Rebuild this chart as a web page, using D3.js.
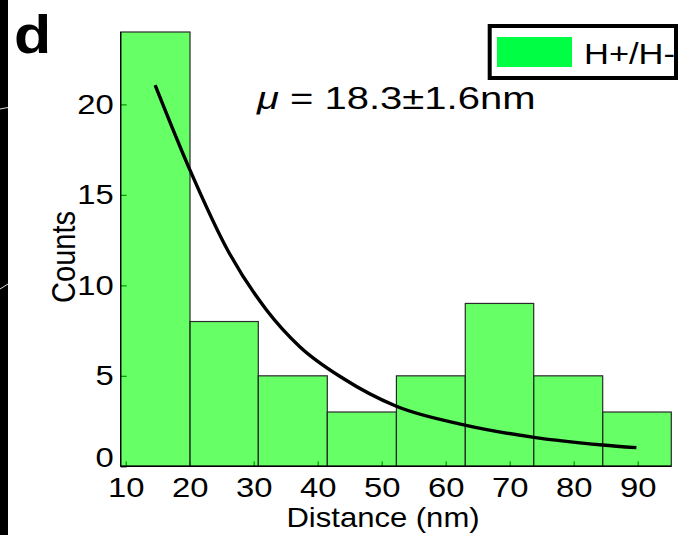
<!DOCTYPE html>
<html>

<head>
    <title>Distance histogram</title>
    <style>
        body {
            margin: 0;
            background: #fff;
        }

        text {
            font-family: "Liberation Sans", Arial, Helvetica, sans-serif;
            fill: #000;
        }
    </style>
    <script src="https://d3js.org/d3.v7.min.js"></script>
</head>

<body>
    <script>
        // histogram bins (nm) and counts
        let binEdges = [9.22, 20.05, 30.72, 41.5, 52.3, 63.06, 73.75, 84.53, 95.25];
        let counts = [24, 8, 5, 3, 5, 9, 5, 3];

        // fitted curve
        let curveX = [14.6, 20.05, 26, 32.0, 37.2, 44, 52.2, 63.0, 73.8, 84.5, 89.8];
        let curveY = [21.07, 16.37, 11.9, 8.64, 6.61, 4.85, 3.33, 2.28, 1.60, 1.18, 1.03];

        let xTicks = [10, 20, 30, 40, 50, 60, 70, 80, 90];
        let yTicks = [0, 5, 10, 15, 20];
        let legendLabel = "H+/H-";
        let fitLabel = "18.3±1.6nm";

        let width = 681;
        let height = 535;
        let stretch = "scale(1.15,1)";

        let svg = d3.select("body")
            .append("svg")
            .attr("width", width)
            .attr("height", height);

        svg.append("rect")
            .attr("width", width)
            .attr("height", height)
            .attr("fill", "#fff");

        // dark strip on the left edge
        svg.append("rect")
            .attr("x", 0).attr("y", 0)
            .attr("width", 8).attr("height", height)
            .attr("fill", "#000");
        svg.append("line")
            .attr("x1", 0).attr("y1", 109).attr("x2", 8).attr("y2", 107.5)
            .attr("stroke", "#ddd").attr("stroke-width", 1);
        svg.append("line")
            .attr("x1", 0).attr("y1", 289).attr("x2", 8).attr("y2", 284)
            .attr("stroke", "#ddd").attr("stroke-width", 1);

        let x = d3.scaleLinear()
            .domain([binEdges[0], binEdges[binEdges.length - 1]])
            .range([120.7, 671.3]);
        let y = d3.scaleLinear()
            .domain([0, 24])
            .range([466.3, 32]);

        // axes first, so the ticks sit under the translucent bars
        let xAxis = svg.append("g")
            .attr("transform", `translate(0, ${y(0)})`)
            .call(d3.axisBottom(x).tickValues(xTicks).tickSizeInner(-5).tickSizeOuter(0).tickPadding(10));
        let yAxis = svg.append("g")
            .attr("transform", `translate(${x.range()[0]}, 0)`)
            .call(d3.axisLeft(y).tickValues(yTicks).tickSizeInner(-6).tickSizeOuter(0).tickPadding(6));

        [xAxis, yAxis].forEach(function (g) {
            g.select(".domain").remove();
            g.selectAll(".tick line").attr("stroke", "#000").attr("stroke-width", 1.2);
            g.selectAll(".tick text")
                .attr("font-size", 28.5)
                .attr("font-family", "Liberation Sans, Arial, sans-serif")
                .attr("transform", stretch);
        });
        // the zero label is lifted a bit in the original
        yAxis.selectAll(".tick text").filter(function (d) { return d === 0; }).attr("dy", "0.0em");

        svg.selectAll(".bar")
            .data(counts)
            .enter()
            .append("rect")
            .attr("class", "bar")
            .attr("x", function (d, i) { return x(binEdges[i]); })
            .attr("y", function (d) { return y(d); })
            .attr("width", function (d, i) { return x(binEdges[i + 1]) - x(binEdges[i]); })
            .attr("height", function (d) { return y(0) - y(d); })
            .attr("fill", "#00ff00")
            .attr("fill-opacity", 0.6)
            .attr("stroke", "#2a2a2a")
            .attr("stroke-width", 1.2);

        // axis lines on top
        svg.append("line")
            .attr("x1", x.range()[0]).attr("x2", x.range()[1])
            .attr("y1", y(0)).attr("y2", y(0))
            .attr("stroke", "#000").attr("stroke-width", 1.4);
        svg.append("line")
            .attr("x1", x.range()[0]).attr("x2", x.range()[0])
            .attr("y1", y(0)).attr("y2", y(24))
            .attr("stroke", "#000").attr("stroke-width", 1.2);

        let curve = d3.line()
            .x(function (d, i) { return x(curveX[i]); })
            .y(function (d) { return y(d); })
            .curve(d3.curveMonotoneX);

        svg.append("path")
            .attr("d", curve(curveY))
            .attr("fill", "none")
            .attr("stroke", "#000")
            .attr("stroke-width", 3.4);

        // axis titles
        svg.append("text")
            .attr("transform", `translate(383, 527) ${stretch}`)
            .attr("text-anchor", "middle")
            .attr("font-size", 27)
            .text("Distance (nm)");
        svg.append("text")
            .attr("transform", `translate(75, 257) ${stretch} rotate(-90)`)
            .attr("text-anchor", "middle")
            .attr("font-size", 29)
            .text("Counts");

        // panel letter
        svg.append("text")
            .attr("transform", `translate(14, 53) ${stretch}`)
            .attr("font-size", 53)
            .attr("font-weight", "bold")
            .text("d");

        // fit annotation
        let fit = svg.append("text")
            .attr("transform", "translate(257, 109) scale(1.25,1)")
            .attr("font-size", 32);
        fit.append("tspan").attr("font-style", "italic").text("μ");
        fit.append("tspan").text(" = " + fitLabel);

        // legend
        svg.append("rect")
            .attr("x", 489.7).attr("y", 26)
            .attr("width", 186.3).attr("height", 52)
            .attr("fill", "#fff")
            .attr("stroke", "#000")
            .attr("stroke-width", 4);
        svg.append("rect")
            .attr("x", 497).attr("y", 37)
            .attr("width", 75).attr("height", 30)
            .attr("fill", "#00ff44");
        svg.append("text")
            .attr("transform", `translate(584, 64) ${stretch}`)
            .attr("font-size", 30)
            .text(legendLabel);
    </script>
</body>

</html>
